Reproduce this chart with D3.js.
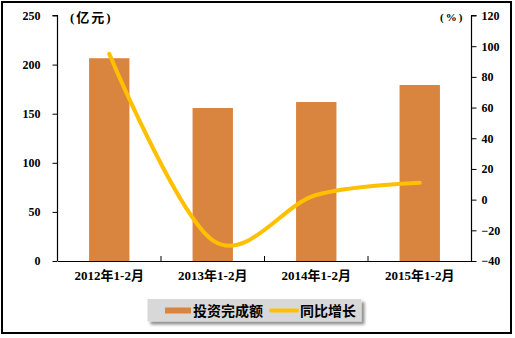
<!DOCTYPE html>
<html><head><meta charset="utf-8">
<script src="https://cdn.jsdelivr.net/npm/d3@7"></script>
<style>
html,body{margin:0;padding:0;background:#fff;}
svg text{font-family:"Liberation Serif","Noto Sans CJK SC",serif;font-weight:bold;fill:#000;}
</style></head>
<body>
<svg id="c" width="515" height="338"></svg>
<script>
const categories = ["2012年1-2月","2013年1-2月","2014年1-2月","2015年1-2月"];
const investValues = [206.5, 155.8, 161.9, 179.2];
const growthValues = [95, -26.5, 3, 11];
const leftTicks = [0,50,100,150,200,250];
const rightTicks = [-40,-20,0,20,40,60,80,100,120];
const seriesNames = ["投资完成额","同比增长"];
const leftUnit = "(亿元)";
const rightUnit = "(%)";

const svg = d3.select("#c");
const L = 57.5, R = 471.5, T = 15.5, B = 261;
const barColor = "#D9843F", lineColor = "#FFC000";

svg.append("rect").attr("x",2).attr("y",2).attr("width",509).attr("height",331)
  .attr("fill","#fff").attr("stroke","#000").attr("stroke-width",2);

const x = d3.scaleBand().domain(categories).range([L,R]).paddingInner(0.61).paddingOuter(0.305);
const xb = d3.scaleBand().domain(categories).range([L,R]);
const yL = d3.scaleLinear().domain([0,250]).range([B,T]);
const yR = d3.scaleLinear().domain([-40,120]).range([B,T]);

// bars
svg.append("g").selectAll("rect").data(investValues).join("rect")
  .attr("x",(d,i)=>x(categories[i])).attr("width",x.bandwidth())
  .attr("y",d=>yL(d)).attr("height",d=>yL(0)-yL(d)).attr("fill",barColor);

// axes
const gl = svg.append("g").attr("transform",`translate(${L},0)`)
  .call(d3.axisLeft(yL).tickValues(leftTicks).tickSize(5).tickPadding(12));
const gr = svg.append("g").attr("transform",`translate(${R},0)`)
  .call(d3.axisRight(yR).tickValues(rightTicks).tickSize(5).tickPadding(5));
const gb = svg.append("g").attr("transform",`translate(0,${B})`)
  .call(d3.axisBottom(xb).tickSize(0).tickPadding(10));
// category separator ticks
svg.append("g").selectAll("line").data(d3.range(categories.length+1)).join("line")
  .attr("x1",i=>L+i*xb.step()).attr("x2",i=>L+i*xb.step())
  .attr("y1",B).attr("y2",B-5).attr("stroke","#000").attr("stroke-width",1);
[gl,gr,gb].forEach(g=>{
  g.selectAll(".domain").attr("stroke","#000").attr("stroke-width",1.2);
  g.selectAll(".tick line").attr("stroke","#000");
  g.selectAll("text").style("font-size","12px").style("font-family",'"Liberation Serif","Noto Sans CJK SC",serif').style("font-weight","bold");
});
gl.select(".domain").attr("d",`M-5,${T}H0V${B}`);
gr.select(".domain").attr("d",`M5,${T}H0V${B}`);
gb.selectAll(".tick text").style("font-size","13px");

// line
const line = d3.line().x((d,i)=>xb(categories[i])+xb.bandwidth()/2).y(d=>yR(d))
  .curve(d3.curveCatmullRom.alpha(0));
svg.append("path").datum(growthValues).attr("d",line).attr("fill","none")
  .attr("stroke",lineColor).attr("stroke-width",4).attr("stroke-linecap","round");

// units
svg.append("text").attr("x",70).attr("y",22).style("font-size","13px").style("letter-spacing","2px").text(leftUnit);
svg.append("text").attr("x",440).attr("y",21).style("font-size","11px").style("letter-spacing","2px").text(rightUnit);

// legend
const defs = svg.append("defs");
const f = defs.append("filter").attr("id","sh").attr("x","-10%").attr("y","-30%").attr("width","120%").attr("height","180%");
f.append("feGaussianBlur").attr("in","SourceAlpha").attr("stdDeviation",1.5);
f.append("feOffset").attr("dx",3).attr("dy",3).attr("result","o");
f.append("feComponentTransfer").append("feFuncA").attr("type","linear").attr("slope",0.45);
const m = f.append("feMerge"); m.append("feMergeNode"); m.append("feMergeNode").attr("in","SourceGraphic");
svg.append("rect").attr("x",147.5).attr("y",299).attr("width",214).attr("height",22.5)
  .attr("fill","#D8D8D8").attr("filter","url(#sh)");
const lg = svg.append("g");
lg.append("line").attr("x1",165).attr("x2",191).attr("y1",310.5).attr("y2",310.5).attr("stroke",barColor).attr("stroke-width",6);
lg.append("text").attr("x",193).attr("y",315.5).style("font-size","14px").text(seriesNames[0]);
lg.append("line").attr("x1",271).attr("x2",297).attr("y1",310.5).attr("y2",310.5).attr("stroke",lineColor).attr("stroke-width",4).attr("stroke-linecap","round");
lg.append("text").attr("x",300).attr("y",315.5).style("font-size","14px").text(seriesNames[1]);
</script>
</body></html>
